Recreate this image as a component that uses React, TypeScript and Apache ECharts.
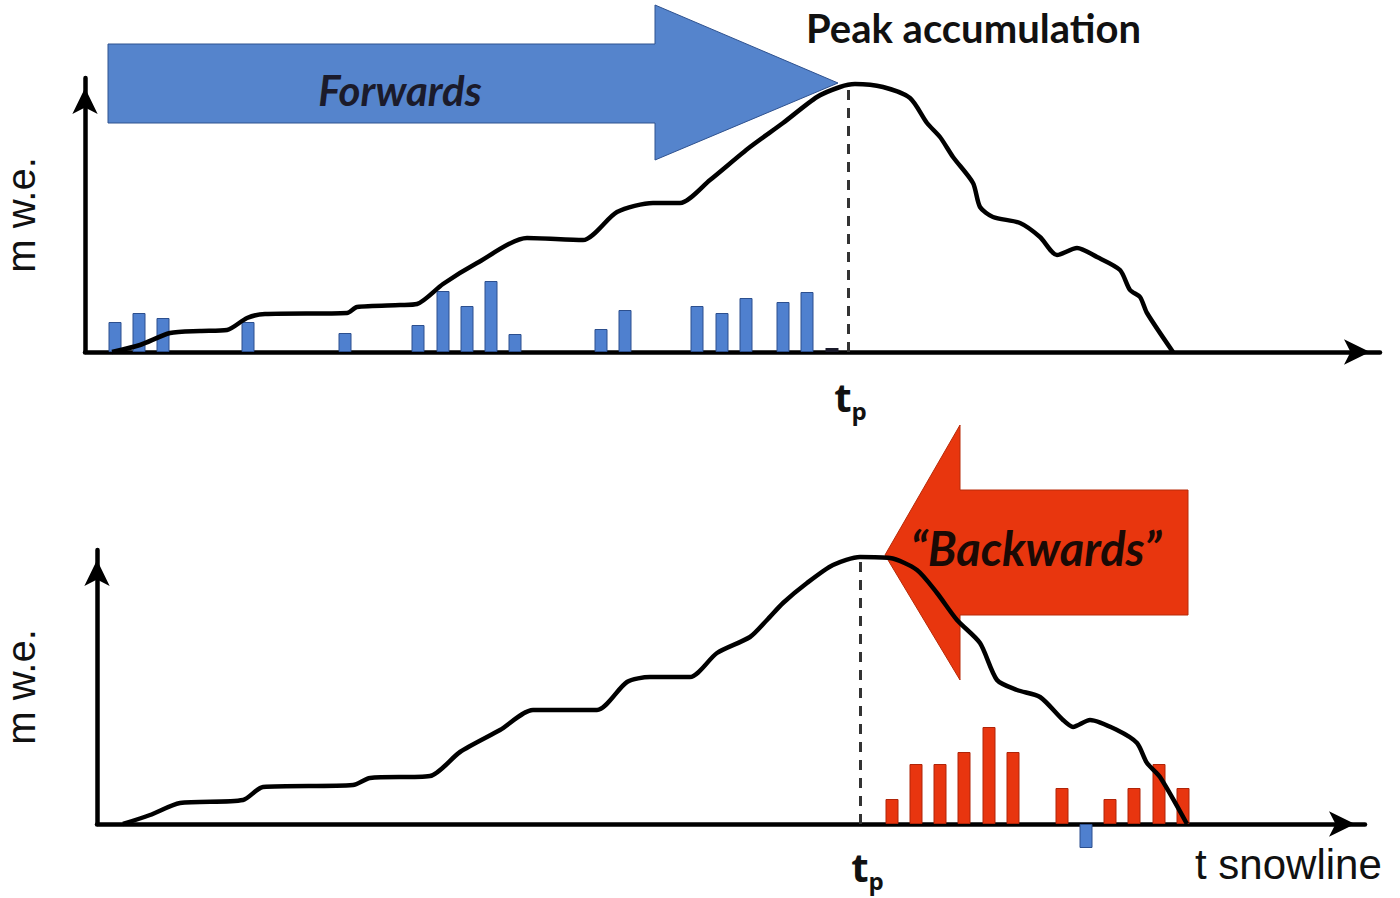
import React, { useEffect, useRef } from "react";
import * as echarts from "echarts";

// ---- data (time units along x, water-equivalent units along y) ----
const tpTime = 763;

const topCurve: number[][] = [
  [27, 0], [55, 7], [85, 19], [115, 21], [142, 22], [162, 34], [180, 38], [262, 39],
  [272, 45], [315, 47], [332, 48], [358, 68], [392, 89], [442, 114], [498, 112],
  [532, 140], [568, 149], [595, 149], [625, 172], [665, 205], [698, 229], [732, 255],
  [755, 265], [770, 268], [798, 265], [825, 254], [842, 229], [855, 215], [868, 195],
  [888, 169], [895, 145], [908, 135], [935, 129], [955, 115], [972, 97], [992, 104],
  [1012, 95], [1035, 82], [1045, 62], [1055, 55], [1062, 39], [1088, 0],
];
const topPeak = 268;

const topBarTimes = [30, 54, 78, 163, 260, 333, 358, 382, 406, 430, 516, 540, 612, 637, 661, 698, 722];
const topBarValues = [30, 39, 34, 30, 19, 27, 61, 46, 71, 18, 23, 42, 46, 39, 54, 50, 60];
const topSmallTimes = [747];
const topSmallValues = [4];

const bottomCurve: number[][] = [
  [26, 0], [53, 9], [83, 21], [146, 24], [166, 37], [256, 39], [273, 46], [333, 48],
  [363, 72], [403, 94], [436, 114], [500, 114], [530, 142], [553, 147], [593, 147],
  [620, 171], [653, 187], [670, 204], [686, 221], [710, 241], [736, 259], [763, 267],
  [793, 266], [820, 254], [840, 231], [860, 204], [883, 181], [900, 144], [920, 134],
  [943, 127], [966, 104], [976, 97], [993, 104], [1020, 94], [1040, 81], [1050, 61],
  [1063, 47], [1090, 0],
];
const bottomPeak = 267;

const bottomBarTimes = [795, 819, 843, 867, 892, 916, 965, 1013, 1037, 1062, 1086];
const bottomBarValues = [25, 60, 60, 72, 97, 72, 36, 25, 36, 60, 36];
const bottomNegTimes = [989];
const bottomNegValues = [-24];

const yAxisName = "m w.e.";
const xAxisName = "t snowline";
const peakLabel = "Peak accumulation";
const forwardsLabel = "Forwards";
const backwardsLabel = "\u201CBackwards\u201D";

const zip = (xs: number[], ys: number[]) => xs.map((x, i) => [x, ys[i]]);

const axisLine = {
  show: true,
  onZero: false,
  symbol: ["none", "arrow"],
  symbolSize: [19, 26],
  symbolOffset: [0, -10],
  lineStyle: { color: "#000", width: 4.5 },
};

function makeX(gridIndex: number, max: number) {
  return {
    type: "value",
    gridIndex,
    min: 0,
    max,
    axisLine,
    axisTick: { show: false },
    axisLabel: { show: false },
    splitLine: { show: false },
  };
}
function makeY(gridIndex: number, max: number, gap: number) {
  return {
    type: "value",
    gridIndex,
    min: 0,
    max,
    name: yAxisName,
    nameLocation: "middle",
    nameGap: gap,
    nameRotate: 90,
    nameTextStyle: { fontFamily: "Liberation Sans", fontSize: 40, color: "#111" },
    axisLine,
    axisTick: { show: false },
    axisLabel: { show: false },
    splitLine: { show: false },
  };
}

const dashed = (peak: number) => ({
  silent: true,
  symbol: ["none", "none"],
  label: { show: false },
  lineStyle: { color: "#333", width: 3, type: [10, 8] },
  data: [[{ coord: [tpTime, 0] }, { coord: [tpTime, peak] }]],
});

const blue = "#4f80cf";
const red = "#e8350f";

const option: any = {
  animation: false,
  backgroundColor: "#fff",
  grid: [
    { left: 85, top: 78, width: 1295, height: 274, outerBoundsMode: "none", containLabel: false },
    { left: 97, top: 550, width: 1268, height: 274, outerBoundsMode: "none", containLabel: false },
  ],
  xAxis: [makeX(0, 1295), makeX(1, 1268)],
  yAxis: [makeY(0, 274, 44), makeY(1, 274, 56)],
  graphic: [
    {
      type: "polygon",
      z: 0,
      shape: { points: [[108, 44], [655, 44], [655, 5], [838, 83], [655, 160], [655, 123], [108, 123]] },
      style: { fill: "#5584cc", stroke: "#2f528f", lineWidth: 1 },
    },
    {
      type: "polygon",
      z: 0,
      shape: { points: [[1188, 490], [960, 490], [960, 425], [885, 555], [960, 680], [960, 615], [1188, 615]] },
      style: { fill: "#e8360e", stroke: "#b82a08", lineWidth: 1 },
    },
    {
      type: "text",
      z: 10,
      x: 400,
      y: 90,
      style: { text: forwardsLabel, fill: "#1b1b2b", font: "italic bold 42px Lato", textAlign: "center", textVerticalAlign: "middle" },
    },
    {
      type: "text",
      z: 10,
      x: 1036,
      y: 548,
      style: { text: backwardsLabel, fill: "#1a0a05", font: "italic bold 47px Lato", textAlign: "center", textVerticalAlign: "middle" },
    },
    {
      type: "text",
      z: 10,
      x: 806,
      y: 28,
      style: { text: peakLabel, fill: "#111", font: "bold 40px Lato", textAlign: "left", textVerticalAlign: "middle" },
    },
    {
      type: "text",
      z: 10,
      x: 843,
      y: 396,
      style: { text: "t", fill: "#111", font: "bold 40px 'Open Sans'", textAlign: "center", textVerticalAlign: "middle" },
    },
    {
      type: "text",
      z: 10,
      x: 859,
      y: 410,
      style: { text: "p", fill: "#111", font: "bold 24px 'Open Sans'", textAlign: "center", textVerticalAlign: "middle" },
    },
    {
      type: "text",
      z: 10,
      x: 860,
      y: 866,
      style: { text: "t", fill: "#111", font: "bold 40px 'Open Sans'", textAlign: "center", textVerticalAlign: "middle" },
    },
    {
      type: "text",
      z: 10,
      x: 876,
      y: 880,
      style: { text: "p", fill: "#111", font: "bold 24px 'Open Sans'", textAlign: "center", textVerticalAlign: "middle" },
    },
    {
      type: "text",
      z: 10,
      x: 1195,
      y: 864,
      style: { text: xAxisName, fill: "#111", font: "42px 'Liberation Sans'", textAlign: "left", textVerticalAlign: "middle" },
    },
  ],
  series: [
    {
      type: "bar",
      xAxisIndex: 0,
      yAxisIndex: 0,
      barWidth: 13,
      data: zip(topBarTimes, topBarValues),
      itemStyle: { color: blue, borderColor: "#2c4f8e", borderWidth: 1 },
      z: 3,
    },
    {
      type: "bar",
      xAxisIndex: 0,
      yAxisIndex: 0,
      barWidth: 13,
      barGap: "-100%",
      data: zip(topSmallTimes, topSmallValues),
      itemStyle: { color: "#1a1a2a" },
      z: 3,
    },
    {
      type: "line",
      xAxisIndex: 0,
      yAxisIndex: 0,
      data: topCurve,
      symbol: "none",
      smooth: 0.25,
      clip: false,
      lineStyle: { color: "#000", width: 4.5 },
      z: 5,
      markLine: dashed(topPeak),
    },
    {
      type: "bar",
      xAxisIndex: 1,
      yAxisIndex: 1,
      barWidth: 13,
      data: zip(bottomBarTimes, bottomBarValues),
      itemStyle: { color: red, borderColor: "#b02408", borderWidth: 1 },
      z: 3,
    },
    {
      type: "bar",
      xAxisIndex: 1,
      yAxisIndex: 1,
      barWidth: 13,
      barGap: "-100%",
      clip: false,
      data: zip(bottomNegTimes, bottomNegValues),
      itemStyle: { color: blue, borderColor: "#2c4f8e", borderWidth: 1 },
      z: 3,
    },
    {
      type: "line",
      xAxisIndex: 1,
      yAxisIndex: 1,
      data: bottomCurve,
      symbol: "none",
      smooth: 0.25,
      clip: false,
      lineStyle: { color: "#000", width: 4.5 },
      z: 5,
      markLine: dashed(bottomPeak),
    },
  ],
};

export default function App() {
  const ref = useRef<HTMLDivElement>(null);
  useEffect(() => {
    const chart = echarts.init(ref.current!, null, { renderer: "svg" });
    chart.setOption(option);
    return () => chart.dispose();
  }, []);
  return (
    <div
      ref={ref}
      style={{ position: "fixed", left: 0, top: 0, width: 1400, height: 898, background: "#fff" }}
    />
  );
}
